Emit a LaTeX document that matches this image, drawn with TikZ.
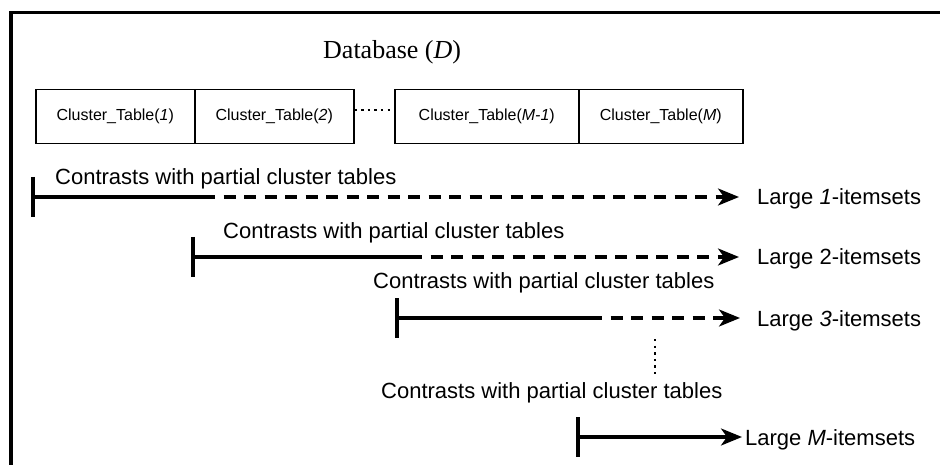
\documentclass[tikz,border=0pt]{standalone}
\usepackage{fontspec}
\setmainfont{Liberation Sans}
\newfontfamily\dbserif{Liberation Serif}
\usetikzlibrary{arrows.meta}
\begin{document}
\begin{tikzpicture}[x=1pt,y=-1pt,
  cell/.style={draw, line width=1.5pt, minimum height=54pt, inner sep=0pt,
    anchor=north west, font=\fontsize{16}{19}\selectfont},
  lbl/.style={anchor=base west, inner sep=0pt, font=\fontsize{22}{26}\selectfont},
  tickmark/.style={line width=3.4pt},
  solidpart/.style={line width=3.2pt},
  dashpart/.style={line width=3.2pt, dash pattern=on 12pt off 8.5pt,
    -{Stealth[length=21pt,width=17pt,inset=6pt]}},
  fullarrow/.style={line width=3.2pt, -{Stealth[length=21pt,width=17pt,inset=6pt]}},
  dotpat/.style={line width=2.4pt, dash pattern=on 2.4pt off 4.2pt},
]
\useasboundingbox (0,0) rectangle (940,465);

% open frame: top and left edges
\draw[line width=3.4pt] (11,465) -- (11,12.5) -- (940,12.5);

% database title
\node[anchor=base west, inner sep=0pt, font=\dbserif\fontsize{26}{30}\selectfont]
  (db) at (323,59) {Database (\textit{D})};

% cluster tables
\node[cell, minimum width=159pt] (t1) at (35,89)  {Cluster\_Table(\textit{1})};
\node[cell, minimum width=159pt] (t2) at (194,89) {Cluster\_Table(\textit{2})};
\node[cell, minimum width=184pt] (t3) at (394,89) {Cluster\_Table(\textit{M-1})};
\node[cell, minimum width=164pt] (t4) at (578,89) {Cluster\_Table(\textit{M})};
\draw[dotpat] ([yshift=7pt]t2.east) -- ([yshift=7pt]t3.west);

% scan labels
\node[lbl] (c1) at (55,185)  {Contrasts with partial cluster tables};
\node[lbl] (c2) at (223,239) {Contrasts with partial cluster tables};
\node[lbl] (c3) at (373,288) {Contrasts with partial cluster tables};
\node[lbl] (c4) at (381,398) {Contrasts with partial cluster tables};

% resulting itemsets
\node[lbl] (l1) at (757,205) {Large \textit{1}-itemsets};
\node[lbl] (l2) at (757,265) {Large 2-itemsets};
\node[lbl] (l3) at (757,326) {Large \textit{3}-itemsets};
\node[lbl] (l4) at (745,445) {Large \textit{M}-itemsets};

% scan 1
\coordinate (s1) at (33,197);  \coordinate (m1) at (203,197); \coordinate (e1) at (739,197);
\draw[tickmark] ([yshift=20pt]s1) -- ([yshift=-20pt]s1);
\draw[solidpart] (s1) -- (m1);
\draw[dashpart] (m1) -- (e1);

% scan 2
\coordinate (s2) at (193,257); \coordinate (m2) at (410,257); \coordinate (e2) at (739,257);
\draw[tickmark] ([yshift=20pt]s2) -- ([yshift=-20pt]s2);
\draw[solidpart] (s2) -- (m2);
\draw[dashpart] (m2) -- (e2);

% scan 3
\coordinate (s3) at (397,318); \coordinate (m3) at (590,318); \coordinate (e3) at (740,318);
\draw[tickmark] ([yshift=20pt]s3) -- ([yshift=-20pt]s3);
\draw[solidpart] (s3) -- (m3);
\draw[dashpart] (m3) -- (e3);

% ellipsis between scans
\coordinate (v1) at (655,339); \coordinate (v2) at (655,374);
\draw[dotpat] (v1) -- (v2);

% scan M
\coordinate (s4) at (578,437); \coordinate (e4) at (742,437);
\draw[tickmark] ([yshift=20pt]s4) -- ([yshift=-20pt]s4);
\draw[fullarrow] (s4) -- (e4);
\end{tikzpicture}
\end{document}
